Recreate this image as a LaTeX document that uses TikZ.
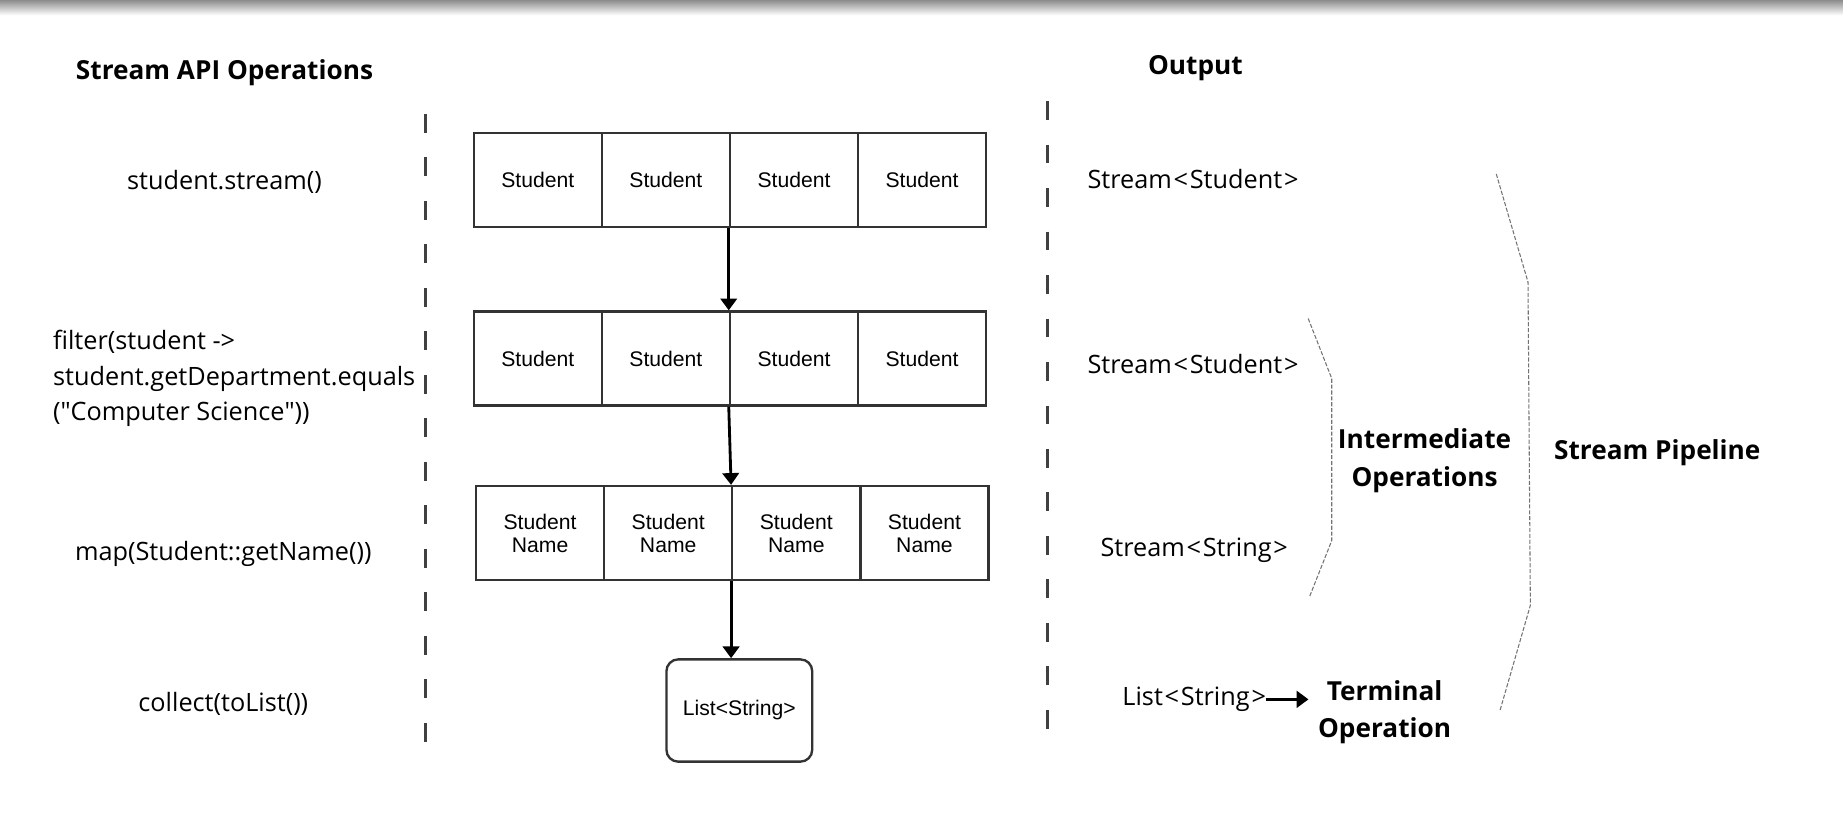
\documentclass[tikz,border=0pt]{standalone}
\usepackage{fontspec}
\setmainfont{Open Sans}
\newfontfamily\boxfont{Liberation Sans}
\usetikzlibrary{arrows.meta,positioning}

\tikzset{
  cell/.style={draw=black!80, line width=2pt, minimum width=109pt, minimum height=80pt,
    inner sep=0pt, align=center, font=\boxfont\fontsize{18}{19.5}\selectfont},
  result/.style={cell, rounded corners=10pt, minimum width=124pt, minimum height=87pt},
  opname/.style={font=\fontsize{21.5}{30.5}\selectfont, inner sep=0pt},
  heading/.style={font=\bfseries\fontsize{22.3}{32}\selectfont, inner sep=0pt, align=center},
  flow/.style={line width=2.4pt, -{Triangle[width=14pt,length=10pt]}},
  divider/.style={draw=black!75, line width=3pt, dash pattern=on 16pt off 21pt},
  bracket/.style={draw=black!55, line width=0.9pt, dash pattern=on 3.5pt off 1.5pt}
}
\newcommand{\lt}{\kern1.5pt<\kern1.5pt}
\newcommand{\gt}{\kern1.5pt>}

\begin{document}
\begin{tikzpicture}[x=1pt,y=-1pt]
        \useasboundingbox (0,0) rectangle (1568,692);
        % Screen edge at the top
        \shade[top color=black!45, bottom color=white] (0,0) rectangle (1568,13);

        % Headings
        \node[heading] (apihead) at (191,62) {Stream API Operations};
        \node[heading] (outhead) at (1017,58) {Output};

        % Dashed column lines
        \draw[divider] (362,97) -- (362,633);
        \draw[divider] (891,86) -- (891,620);

        % Rows of elements
        \foreach \i/\x in {1/457.5,2/566.5,3/675.5,4/784.5} {
            \node[cell] (s1-\i) at (\x,153) {Student};
            \node[cell] (s2-\i) at (\x,305) {Student};
            \node[cell] (s3-\i) at (\x+2,453.5) {Student\\Name};
        }
        \node[result] (res) at (629,604.5) {List<String>};

        \draw[flow] (s1-3.south west) -- (s2-3.north west);
        \draw[flow] (s2-3.south west) -- (s3-3.north west);
        \draw[flow] (s3-3.south west) -- (s3-3.south west |- res.north);

        % Operations
        \node[opname] (op1) at (191,155) {student.stream()};
        \node[opname, anchor=west, align=left] (op2) at (45,322)
            {filter(student ->\\student.getDepartment.equals\\(\textquotedbl Computer Science\textquotedbl))};
        \node[opname] (op3) at (190,471) {map(Student::getName())};
        \node[opname] (op4) at (190,599) {collect(toList())};

        % Outputs
        \node[opname] (out1) at (1015,152) {Stream\lt Student\gt};
        \node[opname] (out2) at (1015,310) {Stream\lt Student\gt};
        \node[opname] (out3) at (1016,468) {Stream\lt String\gt};
        \node[opname] (out4) at (1016,595) {List\lt String\gt};
        \node[heading] (term) at (1178,606) {Terminal\\Operation};
        \draw[flow, line width=2.6pt] (out4.east) -- ([xshift=-8pt]term.west |- out4.east);

        % Brackets
        \draw[bracket] (1113,271) -- (1133,322) -- (1133,460) -- (1114,508);
        \node[heading] (inter) at (1212,392) {Intermediate\\Operations};
        \draw[bracket] (1273,148) -- (1300,240) -- (1302,515) -- (1276,605);
        \node[heading] (pipe) at (1410,385) {Stream Pipeline};
\end{tikzpicture}
\end{document}
